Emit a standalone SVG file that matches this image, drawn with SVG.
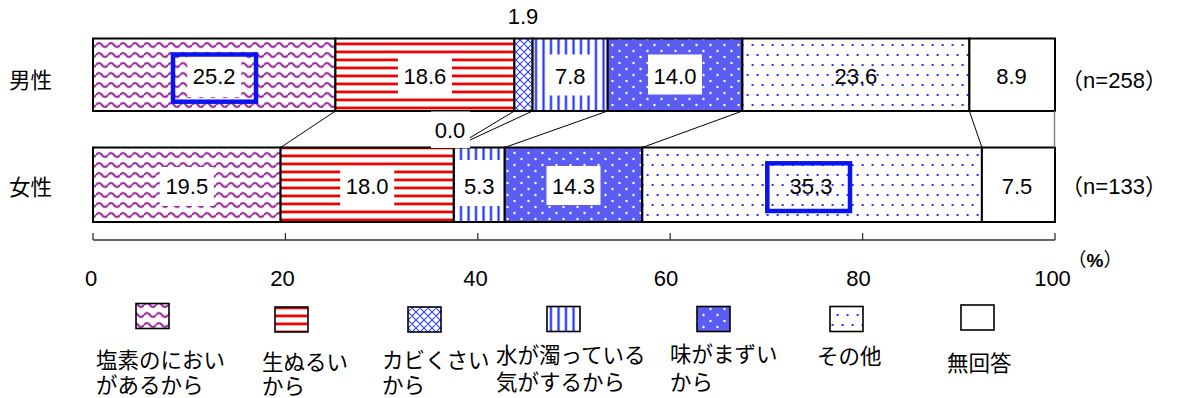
<svg xmlns="http://www.w3.org/2000/svg" width="1180" height="398" viewBox="0 0 1180 398">
<defs>
<style>
.seg{stroke:#000;stroke-width:2}
.lbl{font-family:"Liberation Sans","Noto Sans CJK JP",sans-serif;font-size:22px;fill:#000;text-anchor:middle}
.jp{font-family:"Noto Sans CJK JP","Liberation Sans",sans-serif;font-size:21.5px;fill:#000}
.box{fill:#fff;stroke:none}
.hl{fill:none;stroke:#0a14f0;stroke-width:4.5}
.con{stroke:#000;stroke-width:1;fill:none}
.leg{stroke:#000;stroke-width:1.6}
.ax{stroke:#333;stroke-width:1.3;fill:none}
</style>
<pattern id="pWave" patternUnits="userSpaceOnUse" width="12" height="10">
<rect width="12" height="10" fill="#fff"/>
<path d="M0,5 Q3,1 6,5 T12,5" fill="none" stroke="#e0b0e0" stroke-width="3.2"/>
<path d="M0,5 Q3,1 6,5 T12,5" fill="none" stroke="#932a96" stroke-width="1.6"/>
</pattern>
<pattern id="pRed" patternUnits="userSpaceOnUse" width="8" height="8">
<rect width="8" height="8" fill="#fff"/>
<rect y="2" width="8" height="4" fill="#ffb0b0"/>
<rect y="2.8" width="8" height="2.2" fill="#ee0000"/>
</pattern>
<pattern id="pCross" patternUnits="userSpaceOnUse" width="8" height="8">
<rect width="8" height="8" fill="#fff"/>
<path d="M0,0 L8,8 M8,0 L0,8 M-2,6 L2,10 M6,-2 L10,2 M-2,2 L2,-2 M6,10 L10,6" stroke="#2a3cff" stroke-width="1.1"/>
</pattern>
<pattern id="pVert" patternUnits="userSpaceOnUse" width="7.5" height="8">
<rect width="7.5" height="8" fill="#fff"/>
<rect x="2" width="3" height="8" fill="#b8c0ff"/>
<rect x="2.6" width="1.8" height="8" fill="#1a2cff"/>
</pattern>
<pattern id="pChk" patternUnits="userSpaceOnUse" width="14" height="12">
<rect width="14" height="12" fill="#5a5cf2"/>
<circle cx="3.5" cy="3" r="1.2" fill="#fff"/>
<circle cx="10.5" cy="9" r="1.2" fill="#fff"/>
</pattern>
<pattern id="pDot" patternUnits="userSpaceOnUse" width="10" height="20">
<rect width="10" height="20" fill="#fff"/>
<rect x="1.6" y="4" width="2" height="2" fill="#2a30ff"/>
<rect x="6.6" y="14" width="2" height="2" fill="#2a30ff"/>
</pattern>
</defs>

<g id="category-labels">
<text class="jp" x="9" y="88">男性</text>
<text class="jp" x="9" y="195">女性</text>
</g>

<g id="bar-male">
<g id="m-enso"><rect class="seg" x="93" y="38.5" width="242.4" height="72.5" fill="url(#pWave)"/></g>
<g id="m-namanurui"><rect class="seg" x="335.4" y="38.5" width="179" height="72.5" fill="url(#pRed)"/></g>
<g id="m-kabi"><rect class="seg" x="514.4" y="38.5" width="18.2" height="72.5" fill="url(#pCross)"/></g>
<g id="m-nigori"><rect class="seg" x="532.6" y="38.5" width="75.1" height="72.5" fill="url(#pVert)"/></g>
<g id="m-aji"><rect class="seg" x="607.7" y="38.5" width="134.7" height="72.5" fill="url(#pChk)"/></g>
<g id="m-sonota"><rect class="seg" x="742.4" y="38.5" width="227" height="72.5" fill="url(#pDot)"/></g>
<g id="m-mukaito"><rect class="seg" x="969.4" y="38.5" width="85.6" height="72.5" fill="#fff"/></g>
</g>

<g id="bar-female">
<g id="f-enso"><rect class="seg" x="93" y="147.5" width="187.6" height="74.5" fill="url(#pWave)"/></g>
<g id="f-namanurui"><rect class="seg" x="280.6" y="147.5" width="173.2" height="74.5" fill="url(#pRed)"/></g>
<g id="f-nigori"><rect class="seg" x="453.8" y="147.5" width="50.9" height="74.5" fill="url(#pVert)"/></g>
<g id="f-aji"><rect class="seg" x="504.7" y="147.5" width="137.6" height="74.5" fill="url(#pChk)"/></g>
<g id="f-sonota"><rect class="seg" x="642.3" y="147.5" width="339.6" height="74.5" fill="url(#pDot)"/></g>
<g id="f-mukaito"><rect class="seg" x="981.9" y="147.5" width="73.1" height="74.5" fill="#fff"/></g>
</g>

<g id="connectors">
<line class="con" x1="335.4" y1="111" x2="280.6" y2="147.5"/>
<line class="con" x1="514.4" y1="111" x2="453.8" y2="147.5"/>
<line class="con" x1="532.6" y1="111" x2="453.8" y2="147.5"/>
<line class="con" x1="607.7" y1="111" x2="504.7" y2="147.5"/>
<line class="con" x1="742.4" y1="111" x2="642.3" y2="147.5"/>
<line class="con" x1="969.4" y1="111" x2="981.9" y2="147.5"/>
<line x1="1054.5" y1="111" x2="1054.5" y2="147.5" stroke="#888" stroke-width="1.5"/>
</g>

<g id="data-labels">
<rect class="box" x="187.2" y="55" width="54" height="42"/>
<rect class="hl" x="173" y="54.5" width="83" height="47.2"/>
<text class="lbl" x="214.2" y="83.5">25.2</text>
<rect class="box" x="397.9" y="55" width="54" height="40"/>
<text class="lbl" x="424.9" y="83.5">18.6</text>
<text class="lbl" x="523" y="24">1.9</text>
<rect class="box" x="549.2" y="54.5" width="42" height="41"/>
<text class="lbl" x="570.2" y="83.5">7.8</text>
<rect class="box" x="648" y="54.5" width="54" height="40"/>
<text class="lbl" x="675" y="83.5">14.0</text>
<text class="lbl" x="855.9" y="83.5">23.6</text>
<text class="lbl" x="1011.5" y="83.5">8.9</text>

<rect class="box" x="159.8" y="167" width="54" height="39"/>
<text class="lbl" x="186.8" y="193.5">19.5</text>
<rect class="box" x="340.2" y="166" width="54" height="40"/>
<text class="lbl" x="367.2" y="193.5">18.0</text>
<rect class="box" x="431" y="111.5" width="39" height="36.5"/>
<text class="lbl" x="450" y="138">0.0</text>
<rect class="box" x="458.3" y="160" width="42" height="46"/>
<text class="lbl" x="479.3" y="193.5">5.3</text>
<rect class="box" x="546.5" y="166" width="54" height="39"/>
<text class="lbl" x="573.5" y="193.5">14.3</text>
<rect class="hl" x="767.3" y="163.3" width="82.7" height="47.7"/>
<text class="lbl" x="811" y="193.5">35.3</text>
<text class="lbl" x="1017" y="193.5">7.5</text>

<text class="lbl" x="1114" y="88">（n=258）</text>
<text class="lbl" x="1114" y="194">（n=133）</text>
</g>

<g id="axis">
<path class="ax" d="M93,240 H1055 M93,233 V240 M285.4,233 V240 M477.8,233 V240 M670.2,233 V240 M862.6,233 V240 M1055,233 V240"/>
<text class="lbl" x="91" y="286">0</text>
<text class="lbl" x="282.6" y="286">20</text>
<text class="lbl" x="475.6" y="286">40</text>
<text class="lbl" x="666" y="286">60</text>
<text class="lbl" x="858.6" y="286">80</text>
<text class="lbl" x="1052.5" y="286">100</text>
<text class="lbl" x="1095" y="267" style="font-size:19px">（<tspan font-weight="bold">%</tspan>）</text>
</g>

<g id="legend">
<g id="leg-enso"><rect class="leg" x="136" y="303.5" width="33" height="25" fill="url(#pWave)"/>
<text class="jp" x="96" y="368">塩素のにおい</text><text class="jp" x="96" y="393">があるから</text></g>
<g id="leg-namanurui"><rect class="leg" x="275" y="307" width="33" height="25" fill="url(#pRed)"/>
<text class="jp" x="262" y="370">生ぬるい</text><text class="jp" x="262" y="394">から</text></g>
<g id="leg-kabi"><rect class="leg" x="408" y="307" width="33" height="25" fill="url(#pCross)"/>
<text class="jp" x="382" y="368">カビくさい</text><text class="jp" x="382" y="393">から</text></g>
<g id="leg-nigori"><rect class="leg" x="547" y="306.5" width="33" height="25" fill="url(#pVert)"/>
<text class="jp" x="496" y="363">水が濁っている</text><text class="jp" x="496" y="390">気がするから</text></g>
<g id="leg-aji"><rect class="leg" x="697" y="306.5" width="33" height="25" fill="url(#pChk)"/>
<text class="jp" x="670" y="362">味がまずい</text><text class="jp" x="670" y="390">から</text></g>
<g id="leg-sonota"><rect class="leg" x="830" y="306.5" width="33" height="25" fill="url(#pDot)"/>
<text class="jp" x="817" y="364">その他</text></g>
<g id="leg-mukaito"><rect class="leg" x="961" y="305" width="33" height="25" fill="#fff"/>
<text class="jp" x="947" y="371">無回答</text></g>
</g>
</svg>
